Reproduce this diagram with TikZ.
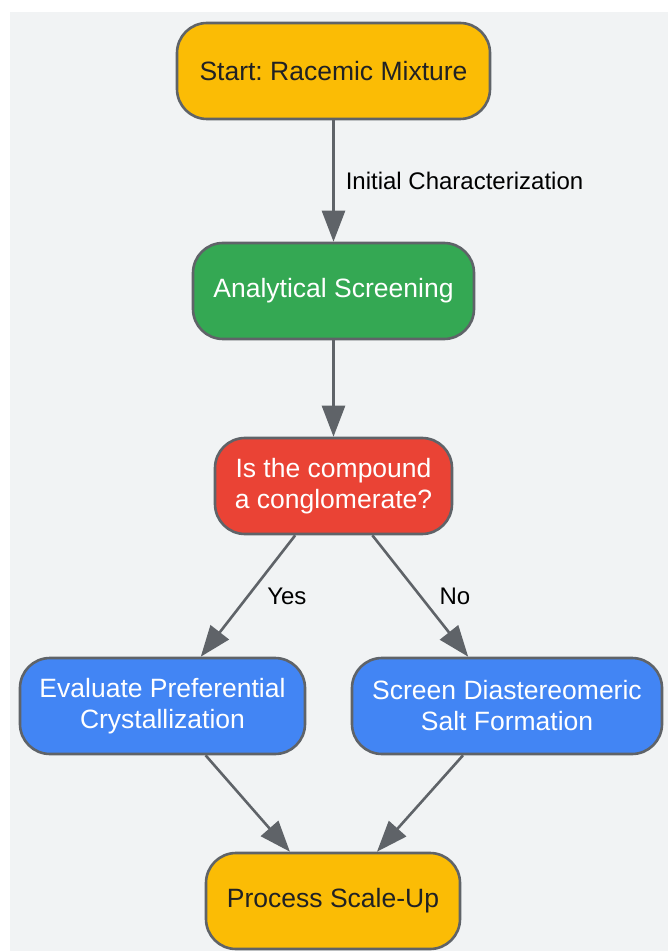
\documentclass[tikz,border=0pt]{standalone}
\usepackage{fontspec}
\setmainfont{Liberation Sans}
\frenchspacing
\usetikzlibrary{arrows.meta}
\definecolor{bggray}{HTML}{F1F3F4}
\definecolor{edgegray}{HTML}{5F6368}
\definecolor{gyellow}{HTML}{FBBC05}
\definecolor{ggreen}{HTML}{34A853}
\definecolor{gred}{HTML}{EA4335}
\definecolor{gblue}{HTML}{4285F4}
\definecolor{darktext}{HTML}{202124}

\begin{document}
\begin{tikzpicture}[x=0.5pt,y=-0.5pt]
				\tikzset{stage/.style={draw=edgegray,line width=1.3pt,rounded corners=15pt,align=center,
						minimum height=48pt,inner sep=0pt,font=\fontsize{13.25}{15.5}\selectfont}}
				\tikzset{yellowbox/.style={stage,fill=gyellow,text=darktext}}
				\tikzset{greenbox/.style={stage,fill=ggreen,text=white}}
				\tikzset{redbox/.style={stage,fill=gred,text=white}}
				\tikzset{bluebox/.style={stage,fill=gblue,text=white}}
				\tikzset{flow/.style={draw=edgegray,line width=1.3pt,-{Triangle[length=15.5pt,width=11.5pt]}}}
				\tikzset{elabel/.style={font=\fontsize{12}{14}\selectfont,text=black,inner sep=1pt}}
				\useasboundingbox (0,0) rectangle (668,951);
				\fill[bggray] (10,12) rectangle (668,951);
				\node[yellowbox,minimum width=156.5pt] (start) at (333.5,71) {Start: Racemic Mixture};
				\node[greenbox,minimum width=140.5pt] (screening) at (333.5,291) {Analytical Screening};
				\node[redbox,minimum width=118.5pt] (conglom) at (333.5,486) {Is the compound\\a conglomerate?};
				\node[bluebox,minimum width=142.5pt] (prefcryst) at (162.5,706) {Evaluate Preferential\\Crystallization};
				\node[bluebox,minimum width=155pt] (saltform) at (507,706) {Screen Diastereomeric\\Salt Formation};
				\node[yellowbox,minimum width=127pt] (scaleup) at (333,901) {Process Scale-Up};
				\draw[flow] (start) -- node[elabel,right=4.5pt] {Initial Characterization} (screening);
				\draw[flow] (screening) -- (conglom);
				\draw[flow] (conglom) -- node[elabel,right=8pt] {Yes} (prefcryst);
				\draw[flow] (conglom) -- node[elabel,right=8pt] {No} (saltform);
				\draw[flow] (prefcryst) -- (scaleup);
				\draw[flow] (saltform) -- (scaleup);
			\end{tikzpicture}
\end{document}
